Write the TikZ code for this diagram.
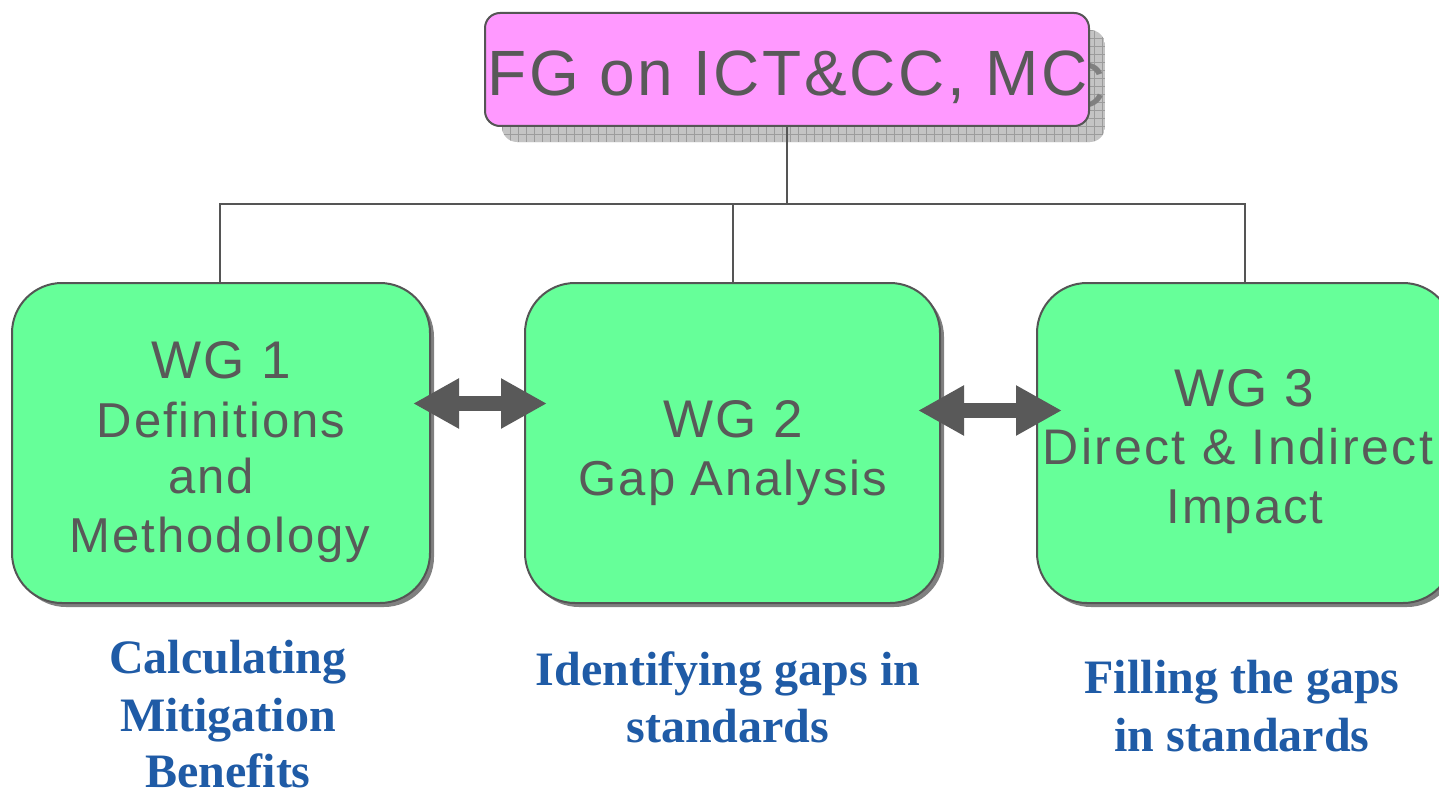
\documentclass[tikz,border=0pt]{standalone}
\usepackage{fontspec}
\setmainfont{Liberation Sans}
\newfontfamily\boxfont[LetterSpace=4]{Liberation Sans}
\newfontfamily\widefont[LetterSpace=5]{Liberation Sans}
\newfontfamily\labfont{Liberation Serif}
\usetikzlibrary{arrows.meta}
\definecolor{pinkfill}{HTML}{FF99FF}
\definecolor{greenfill}{HTML}{66FF99}
\definecolor{txtgray}{HTML}{595959}
\definecolor{edgegray}{HTML}{555555}
\definecolor{labblue}{HTML}{1F5BA6}
\definecolor{shadegray}{HTML}{C4C4C4}
\definecolor{gridgray}{HTML}{9C9C9C}
\definecolor{shadetxt}{HTML}{808080}
\tikzset{
  wgbox/.style={draw=edgegray, line width=2pt, fill=greenfill, rounded corners=50pt,
    minimum height=320pt, inner sep=0pt},
  wgshadow/.style={fill=black!50, rounded corners=50pt, minimum height=320pt, inner sep=0pt},
  boxtxt/.style={text=txtgray, anchor=base, inner sep=0pt},
  labtxt/.style={text=labblue, anchor=base, inner sep=0pt, font=\labfont\bfseries\fontsize{48}{57}\selectfont},
  link/.style={draw=edgegray, line width=1.5pt},
  dbl/.style={draw=txtgray, line width=15pt, {Triangle[length=46pt,width=47pt]}-{Triangle[length=46pt,width=47pt]}}
}
\begin{document}
\begin{tikzpicture}[x=1pt,y=-1pt]
\useasboundingbox (0,0) rectangle (1439,789);
\fill[white] (0,0) rectangle (1439,789);

% top box shadow (hatched)
\begin{scope}
  \clip[rounded corners=15pt] (502,30) rectangle (1105,142);
  \fill[shadegray] (502,30) rectangle (1105,142);
  \foreach \i in {502,510,...,1105} \draw[gridgray, line width=0.8pt] (\i,30) -- (\i,142);
  \foreach \j in {30,38,...,142} \draw[gridgray, line width=0.8pt] (502,\j) -- (1105,\j);
  \node[text=shadetxt, anchor=base, inner sep=0pt, font=\boxfont\fontsize{64}{70}\selectfont] (fgshadow) at (805.5,108) {FG on ICT\&CC, MC};
\end{scope}
% top box
\node[draw=edgegray, line width=2pt, fill=pinkfill, rounded corners=15pt,
  minimum width=604pt, minimum height=113pt, inner sep=0pt] (fg) at (787,69.5) {};
\node[boxtxt, font=\boxfont\fontsize{64}{70}\selectfont] (fgtxt) at (787.5,96) {FG on ICT\&CC, MC};

% connectors
\coordinate (hub) at (787,204);
\draw[link] (fg.south) -- (hub);
\draw[link] (hub) -| (220,283);
\draw[link] (hub) -| (733,283);
\draw[link] (hub) -| (1245,283);

% WG boxes with shadows
\node[wgshadow, minimum width=418pt] at (225,447) {};
\node[wgshadow, minimum width=415pt] at (736.5,447) {};
\node[wgshadow, minimum width=416pt] at (1249,447) {};
\node[wgbox, minimum width=418pt] (wg1) at (221,443) {};
\node[wgbox, minimum width=415pt] (wg2) at (732.5,443) {};
\node[wgbox, minimum width=416pt] (wg3) at (1245,443) {};

% WG texts
\node[boxtxt, font=\boxfont\fontsize{53}{60}\selectfont] (w1a) at (221,378) {WG 1};
\node[boxtxt, font=\boxfont\fontsize{49}{57}\selectfont] (w1b) at (221,437) {Definitions};
\node[boxtxt, font=\boxfont\fontsize{49}{57}\selectfont] (w1c) at (211,493) {and};
\node[boxtxt, font=\boxfont\fontsize{49}{57}\selectfont] (w1d) at (220,552) {Methodology};

\node[boxtxt, font=\boxfont\fontsize{53}{60}\selectfont] (w2a) at (733,437) {WG 2};
\node[boxtxt, font=\boxfont\fontsize{49}{57}\selectfont] (w2b) at (733,495) {Gap Analysis};

\node[boxtxt, font=\boxfont\fontsize{53}{60}\selectfont] (w3a) at (1244,406) {WG 3};
\node[boxtxt, font=\widefont\fontsize{50}{57}\selectfont] (w3b) at (1238,464) {Direct \& Indirect};
\node[boxtxt, font=\boxfont\fontsize{49}{57}\selectfont] (w3c) at (1245,523) {Impact};

% double arrows
\coordinate (a1l) at (413,403.5);
\coordinate (a1r) at (547,403.5);
\coordinate (a2l) at (918,410.5);
\coordinate (a2r) at (1062,410.5);
\draw[dbl] (a1l) -- (a1r);
\draw[dbl] (a2l) -- (a2r);

% bottom labels
\node[labtxt] (l1a) at (228,673) {Calculating};
\node[labtxt] (l1b) at (228,731) {Mitigation};
\node[labtxt] (l1c) at (228,787) {Benefits};
\node[labtxt] (l2a) at (728,685) {Identifying gaps in};
\node[labtxt] (l2b) at (728,742) {standards};
\node[labtxt] (l3a) at (1242,693) {Filling the gaps};
\node[labtxt] (l3b) at (1242,751) {in standards};
\end{tikzpicture}
\end{document}
